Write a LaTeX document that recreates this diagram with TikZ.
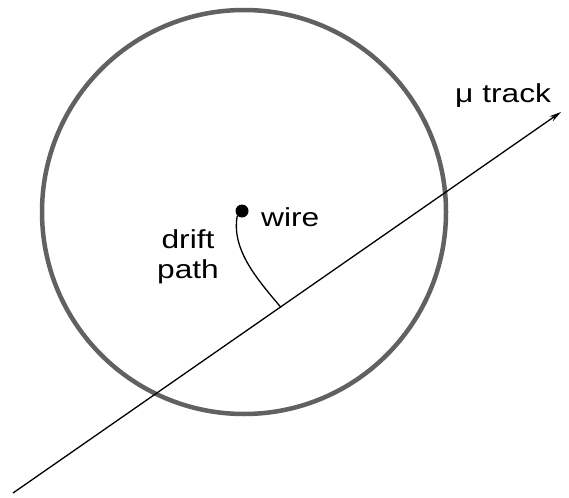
\documentclass[tikz,border=0pt]{standalone}
\usepackage{fontspec}
\setmainfont[FakeStretch=1.22]{Liberation Sans}
\usetikzlibrary{arrows.meta}
\begin{document}
\begin{tikzpicture}[x=1pt,y=-1pt,
  lbl/.style={font=\fontsize{26}{30}\selectfont, inner sep=0pt, anchor=base west},
  chamber/.style={draw=black!62, line width=4.5pt},
  trackline/.style={draw=black, line width=1.3pt, -{Stealth[length=12pt,width=6pt]}},
  drift/.style={draw=black, line width=1.3pt}]
\useasboundingbox (0,0) rectangle (569,497);
\path[chamber] (244,212) circle[radius=202];
\coordinate (tstart) at (13,493);
\coordinate (tend) at (561,112);
\coordinate (foot) at (281,307.5);
\path[trackline] (tstart) -- (tend);
\node[circle, fill=black, inner sep=0pt, minimum size=13pt] (wire) at (242,211) {};
\path[drift] (wire.south west) .. controls (231,250) and (258,280) .. (foot);
\node[lbl] (wirelbl) at (261,226) {wire};
\node[lbl, align=center, anchor=north] (driftlbl) at (188,229) {drift\\path};
\node[lbl] (mulbl) at (455,103) {μ track};
\end{tikzpicture}
\end{document}
